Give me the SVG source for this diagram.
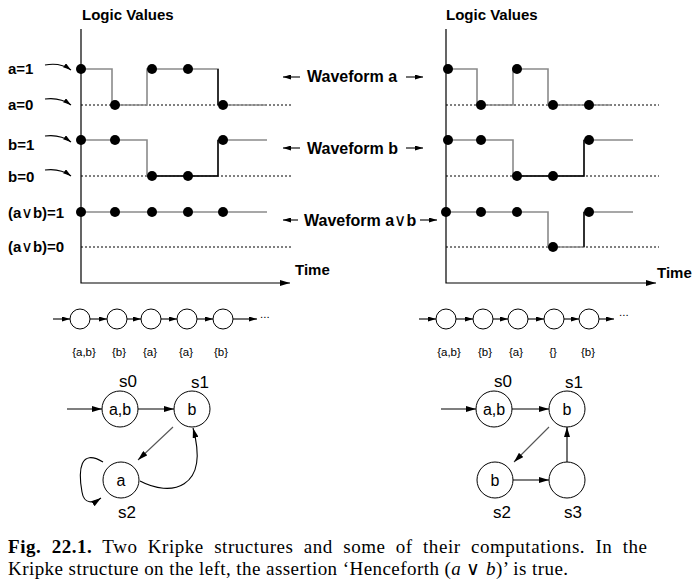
<svg xmlns="http://www.w3.org/2000/svg" width="696" height="582" viewBox="0 0 696 582">
<style>
.t{font-family:"Liberation Sans",Arial,sans-serif;fill:#000}
.lab{font-size:15px;font-weight:bold}
.wf{font-size:16px;font-weight:bold}
.or{font-family:"DejaVu Sans",sans-serif;font-weight:normal;font-size:1.05em}
.sm{font-size:11.5px}
.nd{font-size:16px}
.sl{font-size:17px}
.ax{stroke:#000;stroke-width:1.2;fill:none}
.dot{stroke:#000;stroke-width:1;stroke-dasharray:2,2;fill:none}
.wg{stroke:#8a8a8a;stroke-width:1.6;fill:none}
.wk{stroke:#000;stroke-width:1.4;fill:none}
.pt{fill:#000}
.ln{stroke:#000;stroke-width:1.1;fill:none}
.lg{stroke:#555;stroke-width:1.1;fill:none}
.c{stroke:#000;stroke-width:1;fill:#fff}
.cap{font-family:"Liberation Serif","Times New Roman",serif;font-size:19px;fill:#000}
</style>
<defs>
<marker id="ah" viewBox="0 0 10 6" refX="10" refY="3" markerWidth="10" markerHeight="6" markerUnits="userSpaceOnUse" orient="auto"><path d="M0,0 L10,3 L0,6 z" fill="#000"/></marker>
<marker id="as" viewBox="0 0 8 5" refX="8" refY="2.5" markerWidth="8" markerHeight="5" markerUnits="userSpaceOnUse" orient="auto"><path d="M0,0 L8,2.5 L0,5 z" fill="#000"/></marker>
</defs>

<!-- LEFT WAVEFORM PANEL -->
<g id="left-waves">
<text class="t lab" x="82" y="20">Logic Values</text>
<path class="ax" d="M81,29 V283 H290" marker-end="url(#ah)"/>
<text class="t lab" x="295" y="275">Time</text>
<text class="t lab" x="8" y="74">a=1</text>
<text class="t lab" x="8" y="110">a=0</text>
<text class="t lab" x="8" y="150">b=1</text>
<text class="t lab" x="8" y="182">b=0</text>
<text class="t lab" x="8" y="218">(a<tspan class="or">∨</tspan>b)=1</text>
<text class="t lab" x="8" y="252">(a<tspan class="or">∨</tspan>b)=0</text>
<path class="ln" d="M45,65 Q60,62 71,70" marker-end="url(#as)"/>
<path class="ln" d="M45,99 Q60,97 71,105" marker-end="url(#as)"/>
<path class="ln" d="M45,136 Q60,134 71,142" marker-end="url(#as)"/>
<path class="ln" d="M45,170 Q60,168 71,176" marker-end="url(#as)"/>
<path class="dot" d="M81,105 H293 M81,176 H293 M81,247 H293"/>
<path class="wg" d="M81,69 H112 V105 H147 V69 H218 V105 H267"/>
<path class="wk" d="M218,69 V105"/>
<path class="wg" d="M81,140 H147 V176 H218 V140 H267"/>
<path class="wk" d="M152,176 H218 V140"/>
<path class="wg" d="M81,212 H267"/>
<g class="pt">
<circle cx="81" cy="69" r="5"/><circle cx="115" cy="105" r="5"/><circle cx="152" cy="69" r="5"/><circle cx="188" cy="69" r="5"/><circle cx="223" cy="105" r="5"/>
<circle cx="81" cy="140" r="5"/><circle cx="115" cy="140" r="5"/><circle cx="152" cy="176" r="5"/><circle cx="188" cy="176" r="5"/><circle cx="223" cy="140" r="5"/>
<circle cx="81" cy="212" r="5"/><circle cx="115" cy="212" r="5"/><circle cx="152" cy="212" r="5"/><circle cx="188" cy="212" r="5"/><circle cx="223" cy="212" r="5"/>
</g>
</g>

<!-- WAVEFORM LABELS -->
<g id="wave-labels">
<text class="t wf" x="307" y="82">Waveform a</text>
<text class="t wf" x="307" y="154">Waveform b</text>
<text class="t wf" x="304" y="226">Waveform a<tspan class="or">∨</tspan>b</text>
<path class="ln" d="M300,77 H283" marker-end="url(#as)"/>
<path class="ln" d="M300,148 H283" marker-end="url(#as)"/>
<path class="ln" d="M298,220 H283" marker-end="url(#as)"/>
<path class="ln" d="M406,77 H423" marker-end="url(#as)"/>
<path class="ln" d="M406,148 H423" marker-end="url(#as)"/>
<path class="ln" d="M420,220 H437" marker-end="url(#as)"/>
</g>

<!-- RIGHT WAVEFORM PANEL -->
<g id="right-waves">
<text class="t lab" x="446" y="20">Logic Values</text>
<path class="ax" d="M446,29 V283 H656" marker-end="url(#ah)"/>
<text class="t lab" x="657" y="278">Time</text>
<path class="dot" d="M446,105 H659 M446,176 H659 M446,247 H659"/>
<path class="wg" d="M448,69 H477 V105 H513 V69 H548 V105 H611"/>
<path class="wg" d="M448,140 H513 V176 H584 V140 H633"/>
<path class="wk" d="M517,176 H584 V140"/>
<path class="wg" d="M446,212 H548 V247 H584 V212 H633"/>
<path class="wk" d="M584,247 V212"/>
<g class="pt">
<circle cx="448" cy="69" r="5"/><circle cx="481" cy="105" r="5"/><circle cx="517" cy="69" r="5"/><circle cx="553" cy="105" r="5"/><circle cx="589" cy="105" r="5"/>
<circle cx="448" cy="140" r="5"/><circle cx="481" cy="140" r="5"/><circle cx="517" cy="176" r="5"/><circle cx="553" cy="176" r="5"/><circle cx="589" cy="140" r="5"/>
<circle cx="446" cy="212" r="5"/><circle cx="481" cy="212" r="5"/><circle cx="517" cy="212" r="5"/><circle cx="553" cy="247" r="5"/><circle cx="589" cy="212" r="5"/>
</g>
</g>

<!-- COMPUTATION SEQUENCES -->
<g id="seq-left">
<path class="ln" d="M53,319 H70" marker-end="url(#as)"/>
<path class="ln" d="M90,319 H107" marker-end="url(#as)"/>
<path class="ln" d="M127,319 H141" marker-end="url(#as)"/>
<path class="ln" d="M161,319 H177" marker-end="url(#as)"/>
<path class="ln" d="M197,319 H213" marker-end="url(#as)"/>
<path class="ln" d="M233,319 H257" marker-end="url(#as)"/>
<circle class="c" cx="80" cy="319" r="10"/><circle class="c" cx="117" cy="319" r="10"/><circle class="c" cx="151" cy="319" r="10"/><circle class="c" cx="187" cy="319" r="10"/><circle class="c" cx="223" cy="319" r="10"/>
<text class="t sm" x="260" y="318">...</text>
<g class="t sm" text-anchor="middle">
<text x="84" y="356">{a,b}</text><text x="119" y="356">{b}</text><text x="150" y="356">{a}</text><text x="186" y="356">{a}</text><text x="221" y="356">{b}</text>
</g>
</g>
<g id="seq-right">
<path class="ln" d="M419,319 H436" marker-end="url(#as)"/>
<path class="ln" d="M456,319 H473" marker-end="url(#as)"/>
<path class="ln" d="M493,319 H508" marker-end="url(#as)"/>
<path class="ln" d="M528,319 H544" marker-end="url(#as)"/>
<path class="ln" d="M564,319 H579" marker-end="url(#as)"/>
<path class="ln" d="M599,319 H614" marker-end="url(#as)"/>
<circle class="c" cx="446" cy="319" r="10"/><circle class="c" cx="483" cy="319" r="10"/><circle class="c" cx="518" cy="319" r="10"/><circle class="c" cx="554" cy="319" r="10"/><circle class="c" cx="589" cy="319" r="10"/>
<text class="t sm" x="619" y="316">...</text>
<g class="t sm" text-anchor="middle">
<text x="449" y="356">{a,b}</text><text x="485" y="356">{b}</text><text x="516" y="356">{a}</text><text x="553" y="356">{}</text><text x="588" y="356">{b}</text>
</g>
</g>

<!-- LEFT KRIPKE -->
<g id="connectors-left">
<path class="ln" d="M67,409 H102" marker-end="url(#ah)"/>
<path class="ln" d="M138,409 H174" marker-end="url(#ah)"/>
<path class="lg" d="M173,427 L138,460" marker-end="url(#ah)"/>
<path class="ln" d="M140,481 C170,497 210,490 193,428" marker-end="url(#ah)"/>
<path class="ln" d="M103,462 C80,448 78,470 82,492 C84,505 94,503 101,498" marker-end="url(#ah)"/>
</g>
<g id="L-s0"><circle class="c" cx="120" cy="409" r="18"/><text class="t nd" x="120" y="415" text-anchor="middle">a,b</text><text class="t sl" x="128" y="387" text-anchor="middle">s0</text></g>
<g id="L-s1"><circle class="c" cx="192" cy="409" r="18"/><text class="t nd" x="192" y="415" text-anchor="middle">b</text><text class="t sl" x="200" y="388" text-anchor="middle">s1</text></g>
<g id="L-s2"><circle class="c" cx="121" cy="480" r="18"/><text class="t nd" x="121" y="486" text-anchor="middle">a</text><text class="t sl" x="127" y="518" text-anchor="middle">s2</text></g>

<!-- RIGHT KRIPKE -->
<g id="connectors-right">
<path class="ln" d="M441,409 H476" marker-end="url(#ah)"/>
<path class="ln" d="M512,409 H549" marker-end="url(#ah)"/>
<path class="lg" d="M549,427 L514,462" marker-end="url(#ah)"/>
<path class="ln" d="M513,480 H549" marker-end="url(#ah)"/>
<path class="ln" d="M567,462 V427" marker-end="url(#ah)"/>
</g>
<g id="R-s0"><circle class="c" cx="494" cy="409" r="18"/><text class="t nd" x="494" y="415" text-anchor="middle">a,b</text><text class="t sl" x="503" y="387" text-anchor="middle">s0</text></g>
<g id="R-s1"><circle class="c" cx="567" cy="409" r="18"/><text class="t nd" x="567" y="415" text-anchor="middle">b</text><text class="t sl" x="574" y="388" text-anchor="middle">s1</text></g>
<g id="R-s2"><circle class="c" cx="495" cy="480" r="18"/><text class="t nd" x="495" y="486" text-anchor="middle">b</text><text class="t sl" x="502" y="518" text-anchor="middle">s2</text></g>
<g id="R-s3"><circle class="c" cx="567" cy="480" r="18"/><text class="t sl" x="573" y="518" text-anchor="middle">s3</text></g>

<!-- CAPTION -->
<g id="caption">
<text class="cap" x="8" y="553" word-spacing="5" textLength="639" lengthAdjust="spacing"><tspan font-weight="bold">Fig. 22.1.</tspan> Two Kripke structures and some of their computations. In the</text>
<text class="cap" x="8" y="575" textLength="560" lengthAdjust="spacing">Kripke structure on the left, the assertion ‘Henceforth (<tspan font-style="italic">a</tspan> ∨ <tspan font-style="italic">b</tspan>)’ is true.</text>
</g>
</svg>
